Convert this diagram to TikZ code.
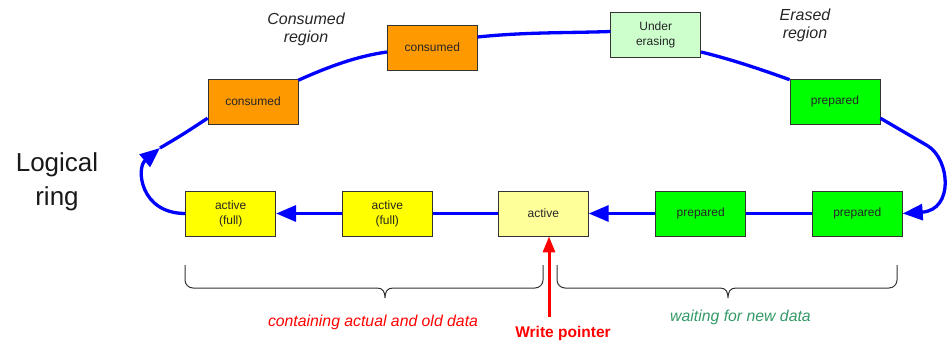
\documentclass[tikz,border=0pt]{standalone}
\usepackage{fontspec}
\setmainfont{Liberation Sans}
\usetikzlibrary{arrows.meta}
\definecolor{orangebox}{HTML}{FF9900}
\definecolor{lightgreenbox}{HTML}{CCFFCC}
\definecolor{greenbox}{HTML}{00FF00}
\definecolor{yellowbox}{HTML}{FFFF00}
\definecolor{paleyellowbox}{HTML}{FFFF99}
\definecolor{ringblue}{HTML}{0000FF}
\definecolor{waitgreen}{HTML}{339966}
\definecolor{bracegray}{HTML}{333333}
\tikzset{
  cell/.style={draw=black!80, line width=0.8pt, minimum width=90pt, minimum height=45pt,
    inner sep=0pt, align=center, text=black!85, font=\fontsize{12}{15}\selectfont},
  ring/.style={draw=ringblue, line width=3.3pt},
  ringarrow/.style={ring, -{Triangle[length=20pt,width=16pt]}},
  bracepath/.style={draw=bracegray, line width=1pt},
  regionlabel/.style={align=center, font=\fontsize{16}{18}\selectfont\itshape, text=black!85},
}
\begin{document}
\begin{tikzpicture}[x=1pt,y=-1pt]
\useasboundingbox (0,0) rectangle (947,342);
% boxes
\node[cell, fill=orangebox] (c1) at (253,101.7) {consumed};
\node[cell, fill=orangebox] (c2) at (432.3,47.5) {consumed};
\node[cell, fill=lightgreenbox] (ue) at (655.7,34.5) {Under\\erasing};
\node[cell, fill=greenbox] (pt) at (835,101.7) {prepared};
\node[cell, fill=yellowbox] (af1) at (230.7,213.5) {active\\(full)};
\node[cell, fill=yellowbox] (af2) at (387.3,213.5) {active\\(full)};
\node[cell, fill=paleyellowbox] (act) at (543.3,213.5) {active};
\node[cell, fill=greenbox] (pm) at (700.7,213.5) {prepared};
\node[cell, fill=greenbox] (pr) at (857.3,213.5) {prepared};
% labels
\node[regionlabel] (lc) at (306,29) {Consumed\\region};
\node[regionlabel] (le) at (805,25) {Erased\\region};
\node[align=center, font=\fontsize{26}{34}\selectfont, text=black!90] (lr) at (57,182) {Logical\\ring};
% straight connectors
\draw[ringarrow] (af2.west) -- (af1.east);
\draw[ring] (act.west) -- (af2.east);
\draw[ringarrow] (pm.west) -- (act.east);
\draw[ring] (pr.west) -- (pm.east);
% curved connectors of the ring
\coordinate (ltip) at (160,148);
\draw[ringarrow] (af1.west) .. controls (140,213.5) and (136,168) .. (ltip);
\draw[ring] (ltip) .. controls (182,135) .. ([yshift=-16.5pt]c1.west);
\draw[ring] ([yshift=21.5pt]c1.east) .. controls (330,66) and (358,56) .. ([yshift=-4.5pt]c2.west);
\draw[ring] ([yshift=10.5pt]c2.east) .. controls (525,32) and (570,33) .. ([yshift=3pt]ue.west);
\draw[ring] ([yshift=-17.5pt]ue.east) .. controls (730,59) and (760,69) .. ([yshift=22pt]pt.west);
\coordinate (rmid) at (928,146);
\draw[ring] ([yshift=-16.5pt]pt.east) .. controls (905,132) .. (rmid);
\draw[ringarrow] (rmid) .. controls (950,160) and (954,210) .. (pr.east);
% write pointer
\coordinate (wp) at (549,317);
\draw[draw=red, line width=3pt, -{Triangle[length=16pt,width=12pt]}] (wp) -- (act.south -| wp);
\node[font=\fontsize{15.5}{18}\selectfont\bfseries, text=red] (wpl) at (563,333) {Write pointer};
% braces
\draw[bracepath, rounded corners=8pt] (185,265) |- (377,288);
\draw[bracepath] (377,288) .. controls (383,288) and (385,292) .. (385,298)
                 .. controls (385,292) and (387,288) .. (393,288);
\draw[bracepath, rounded corners=8pt] (393,288) -| (543,265);
\draw[bracepath, rounded corners=8pt] (557,265) |- (720,288);
\draw[bracepath] (720,288) .. controls (726,288) and (728,292) .. (728,298)
                 .. controls (728,292) and (730,288) .. (736,288);
\draw[bracepath, rounded corners=8pt] (736,288) -| (897,265);
\node[font=\fontsize{15.8}{18}\selectfont\itshape, text=red] (old) at (373,322) {containing actual and old data};
\node[font=\fontsize{15.8}{18}\selectfont\itshape, text=waitgreen] (new) at (740.5,317) {waiting for new data};
\end{tikzpicture}
\end{document}
